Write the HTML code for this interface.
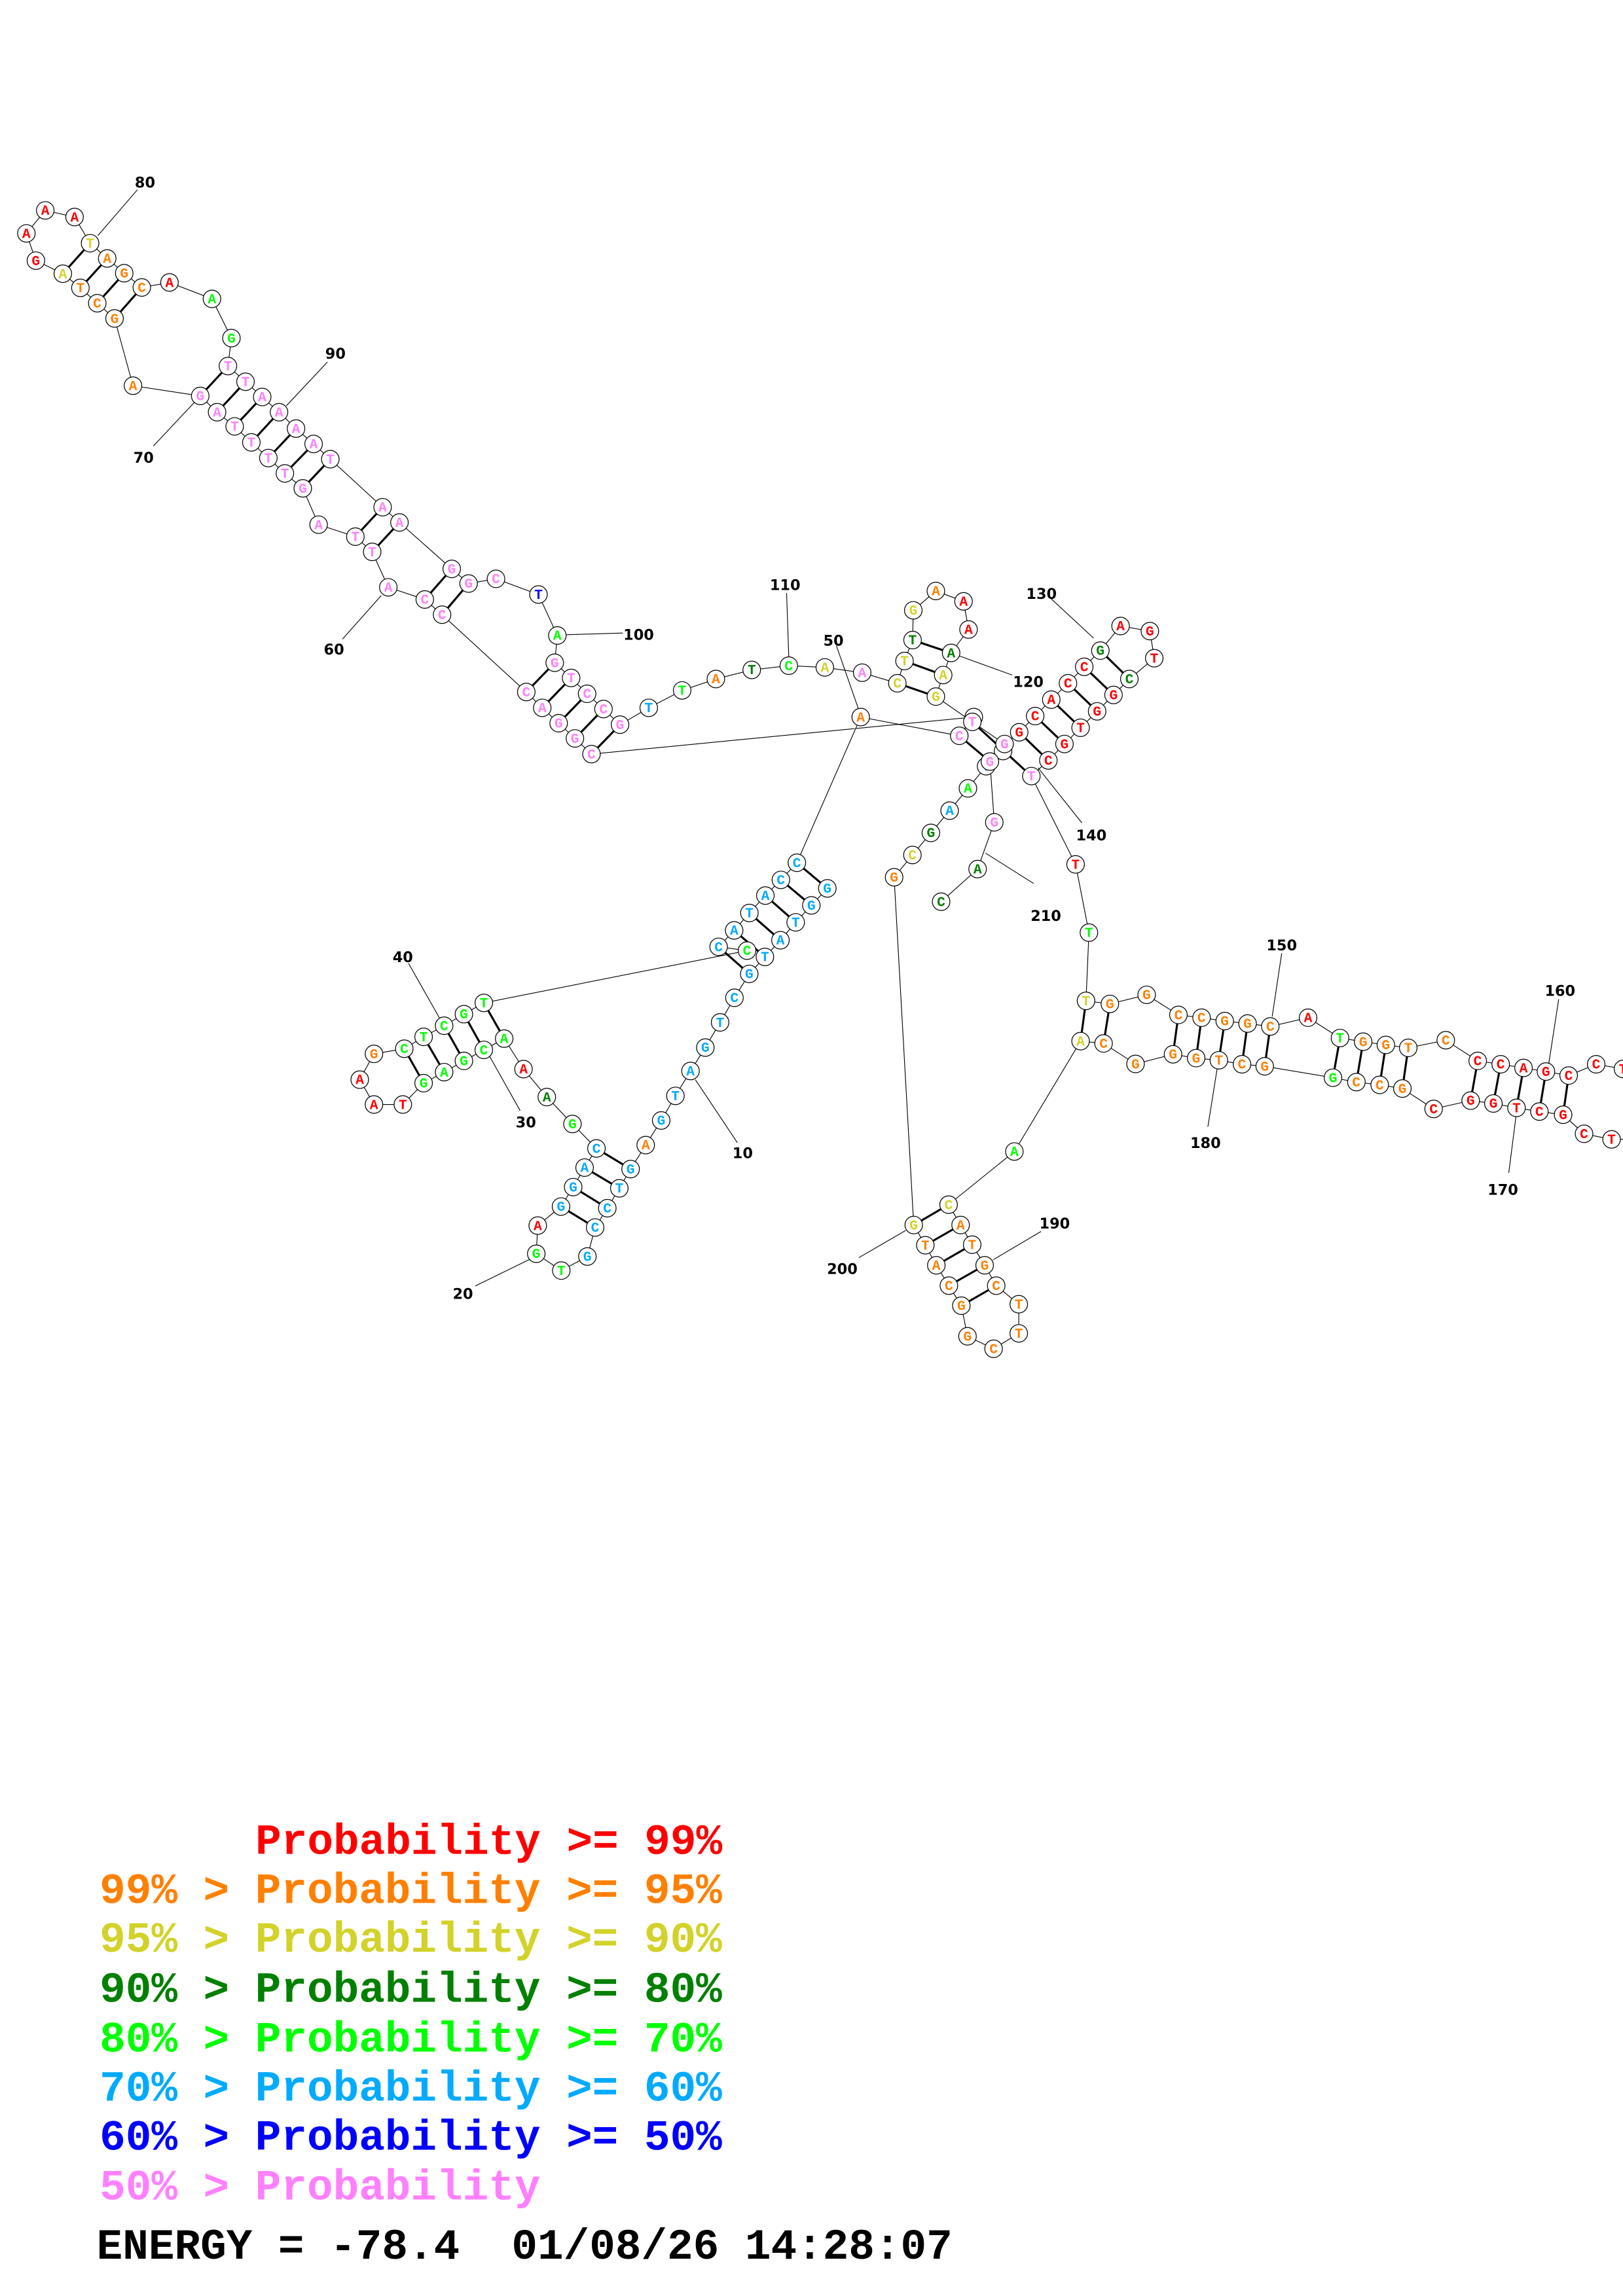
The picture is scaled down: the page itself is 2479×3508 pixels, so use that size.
<!DOCTYPE html>
<html><head><meta charset="utf-8"><style>
html,body{margin:0;padding:0;background:#fff}
svg{display:block}
.n circle{fill:#fff;stroke:#000;stroke-width:0.55}
.n text{font-family:"Liberation Mono",monospace;font-weight:bold;font-size:9.5px;text-anchor:middle}
.r{fill:#ff0000}.o{fill:#ff8000}.y{fill:#d2d22a}.d{fill:#008000}.g{fill:#00ff00}.c{fill:#00aaff}.b{fill:#0000ff}.p{fill:#ff80ff}
.lab{font-family:"DejaVu Sans","Liberation Sans",sans-serif;font-weight:bold;font-size:10px;text-anchor:middle;fill:#000}
.leg text{font-family:"Liberation Mono",monospace;font-weight:bold;font-size:29.5px;white-space:pre}
</style></head><body>
<svg width="2479" height="3508" viewBox="0 0 1108 1568" preserveAspectRatio="none" xmlns="http://www.w3.org/2000/svg">
<g fill="none" stroke="#000" stroke-width="0.5">
<polyline points="564.8,606.7 553.9,618.3 543.2,629.9 532.8,642.1 522.2,653.5 511.5,665.1 501.4,681.4 491.6,698.2 481.5,715.4 471.4,731.4 461.1,748.4 451.4,765.2 440.8,782 430.5,798.4 422.8,811.5 414.6,825.1 406.3,838.3 401,858.1 383.2,867.7 366.1,856.2 367.1,837 383,824 391.3,810.7 399.1,797.4 407.2,784.3 390.8,767.6 373.3,749.2 357.4,730.1 344.2,709.3 330.3,717 316.7,724.5 303.2,732.2 289.2,739.7 275,754.3 255.3,754.3 245.6,737.3 255.3,719.7 276,716.2 289.2,708.1 303.2,700.5 316.7,692.6 330.3,684.9 510,649.2 490.6,646.6 501.2,635.4 511.6,623.5 522.5,611.6 533.1,600.9 544,589.2 587.6,489.7 654.9,502.5 664.8,489.7 403.8,515 392.5,504.3 381.4,493.9 370.2,483.4 359.3,472.6 301.8,419.8 290,409.4 265.1,401.1 254.1,376.9 242.6,366.5 217.5,358.3 206.7,333.5 194.5,323.3 183.2,312.8 171.6,302.1 160.2,291.2 148.2,281.5 136.7,270.4 90.8,263.4 78.2,217.5 66.4,207.1 54.9,196.6 42.9,186.9 24.5,178 18,159.4 30.9,143.7 50.9,148.2 61.5,166.1 73.2,176.5 84.8,186.6 96.8,196.3 115.7,192.9 144.7,204.1 158,230.9 155.6,250 167.6,260.7 179,271.1 190.5,281.5 202.1,292.7 214.1,303.2 225.5,313.6 261.2,346.4 272.7,356.8 308.4,388.5 319.9,398.5 338.6,395.3 367.6,406 380.5,434 378.7,452.6 389.9,463 400.8,473.8 412,484.2 423.3,494.9 442.9,483.4 465.7,471.5 488.7,463.7 513.2,457.5 538.5,454.6 563.1,455.8 588.6,459.4 612.6,466.6 617.5,451.4 623,437.1 623.5,416.8 638.9,403.6 657.8,410.7 661.2,429.9 649.3,445.9 643.9,461 638.9,475.7 663.8,493 685.8,508.1 695.8,500.1 706.7,489 717.7,477.8 729.1,466.6 740.2,455.4 751.2,444.3 765,427.5 785,431 788,449.5 771,463.7 760.2,474.6 749,485.8 737.7,497 726.7,508.1 715.7,519.3 704.1,530 734.3,590.3 743.4,636.9 741.4,683.5 757.7,685.6 782.8,679.4 804.5,693.1 820.3,695 836.1,697.3 851.7,699 867.2,701 893,695 914.8,708.9 930.6,711.4 946.1,713.6 961.4,715.6 987,710.4 1008.8,724.5 1024.5,726.8 1040.1,729.3 1055.4,731.8 1070.9,734.5 1089.7,726.8 1108,730 1120,750 1115,778 1100.2,778.1 1081.4,774.3 1067.1,761.3 1050.9,759.1 1035.3,756.6 1019.5,753.6 1004,751.6 978.7,757.3 957.4,743.4 941.9,740.9 926,739 910,736 863.4,728.2 847.9,726.8 832.1,724.1 816.6,722.6 800.8,720 775.2,726.6 753.4,712.6 737.7,711 692.5,786.4 647.6,822.7 655.8,836.6 663.7,850 672.2,864.1 680.1,878 695.5,890.7 695.5,910.6 678.3,921.1 660.5,912.6 656.3,891.7 647.8,878 639.2,864.1 631.7,850.4 623.8,836.6 610.4,599.1 622.9,583.9 635.5,568.8 648.3,553.6 660.8,538.4 673.2,523.3 684.8,512.9 675.8,520.1 678.8,561.6 667.4,593.5 642.5,615.8"/>
<line x1="474.7" y1="737.3" x2="503.4" y2="780.4"/>
<line x1="324.5" y1="878.2" x2="361.3" y2="860.2"/>
<line x1="334.2" y1="721.3" x2="355.1" y2="758.5"/>
<line x1="278.9" y1="657.9" x2="299.9" y2="695"/>
<line x1="571" y1="441" x2="586" y2="484"/>
<line x1="233.8" y1="436.5" x2="260.3" y2="406.7"/>
<line x1="104.7" y1="304.6" x2="132.7" y2="274.8"/>
<line x1="93.8" y1="129.6" x2="66.8" y2="160.9"/>
<line x1="223.5" y1="247.3" x2="195.5" y2="277.1"/>
<line x1="386.7" y1="433.5" x2="425.2" y2="432.3"/>
<line x1="537" y1="405" x2="538.5" y2="449"/>
<line x1="655" y1="448" x2="691" y2="461"/>
<line x1="717.7" y1="409" x2="746.6" y2="435.8"/>
<line x1="708.7" y1="524.4" x2="738.6" y2="562"/>
<line x1="875" y1="651" x2="868.5" y2="694.3"/>
<line x1="1064.1" y1="682.4" x2="1057.1" y2="727.8"/>
<line x1="1035" y1="762" x2="1030" y2="801"/>
<line x1="830.9" y1="730" x2="824.6" y2="769.5"/>
<line x1="710.7" y1="841" x2="677.9" y2="860.4"/>
<line x1="586.3" y1="858.9" x2="618.3" y2="840.3"/>
<line x1="672.8" y1="582.6" x2="705.7" y2="603.4"/>
</g>
<g stroke="#000" stroke-width="1.4">
<line x1="564.8" y1="606.7" x2="544" y2="589.2"/><line x1="553.9" y1="618.3" x2="533.1" y2="600.9"/><line x1="543.2" y1="629.9" x2="522.5" y2="611.6"/><line x1="532.8" y1="642.1" x2="511.6" y2="623.5"/><line x1="522.2" y1="653.5" x2="501.2" y2="635.4"/><line x1="511.5" y1="665.1" x2="490.6" y2="646.6"/>
<line x1="430.5" y1="798.4" x2="407.2" y2="784.3"/><line x1="422.8" y1="811.5" x2="399.1" y2="797.4"/><line x1="414.6" y1="825.1" x2="391.3" y2="810.7"/><line x1="406.3" y1="838.3" x2="383" y2="824"/>
<line x1="344.2" y1="709.3" x2="330.3" y2="684.9"/><line x1="330.3" y1="717" x2="316.7" y2="692.6"/><line x1="316.7" y1="724.5" x2="303.2" y2="700.5"/><line x1="303.2" y1="732.2" x2="289.2" y2="708.1"/><line x1="289.2" y1="739.7" x2="276" y2="716.2"/>
<line x1="403.8" y1="515" x2="423.3" y2="494.9"/><line x1="392.5" y1="504.3" x2="412" y2="484.2"/><line x1="381.4" y1="493.9" x2="400.8" y2="473.8"/><line x1="370.2" y1="483.4" x2="389.9" y2="463"/><line x1="359.3" y1="472.6" x2="378.7" y2="452.6"/>
<line x1="301.8" y1="419.8" x2="319.9" y2="398.5"/><line x1="290" y1="409.4" x2="308.4" y2="388.5"/><line x1="254.1" y1="376.9" x2="272.7" y2="356.8"/><line x1="242.6" y1="366.5" x2="261.2" y2="346.4"/>
<line x1="206.7" y1="333.5" x2="225.5" y2="313.6"/><line x1="194.5" y1="323.3" x2="214.1" y2="303.2"/><line x1="183.2" y1="312.8" x2="202.1" y2="292.7"/><line x1="171.6" y1="302.1" x2="190.5" y2="281.5"/><line x1="160.2" y1="291.2" x2="179" y2="271.1"/><line x1="148.2" y1="281.5" x2="167.6" y2="260.7"/><line x1="136.7" y1="270.4" x2="155.6" y2="250"/>
<line x1="78.2" y1="217.5" x2="96.8" y2="196.3"/><line x1="66.4" y1="207.1" x2="84.8" y2="186.6"/><line x1="54.9" y1="196.6" x2="73.2" y2="176.5"/><line x1="42.9" y1="186.9" x2="61.5" y2="166.1"/>
<line x1="612.6" y1="466.6" x2="638.9" y2="475.7"/><line x1="617.5" y1="451.4" x2="643.9" y2="461"/><line x1="623" y1="437.1" x2="649.3" y2="445.9"/>
<line x1="695.8" y1="500.1" x2="715.7" y2="519.3"/><line x1="706.7" y1="489" x2="726.7" y2="508.1"/><line x1="717.7" y1="477.8" x2="737.7" y2="497"/><line x1="729.1" y1="466.6" x2="749" y2="485.8"/><line x1="740.2" y1="455.4" x2="760.2" y2="474.6"/><line x1="751.2" y1="444.3" x2="771" y2="463.7"/>
<line x1="654.9" y1="502.5" x2="675.8" y2="520.1"/><line x1="663.8" y1="493" x2="704.1" y2="530"/>
<line x1="741.4" y1="683.5" x2="737.7" y2="711"/><line x1="757.7" y1="685.6" x2="753.4" y2="712.6"/>
<line x1="804.5" y1="693.1" x2="800.8" y2="720"/><line x1="820.3" y1="695" x2="816.6" y2="722.6"/><line x1="836.1" y1="697.3" x2="832.1" y2="724.1"/><line x1="851.7" y1="699" x2="847.9" y2="726.8"/><line x1="867.2" y1="701" x2="863.4" y2="728.2"/>
<line x1="914.8" y1="708.9" x2="910" y2="736"/><line x1="930.6" y1="711.4" x2="926" y2="739"/><line x1="946.1" y1="713.6" x2="941.9" y2="740.9"/><line x1="961.4" y1="715.6" x2="957.4" y2="743.4"/>
<line x1="1008.8" y1="724.5" x2="1004" y2="751.6"/><line x1="1024.5" y1="726.8" x2="1019.5" y2="753.6"/><line x1="1040.1" y1="729.3" x2="1035.3" y2="756.6"/><line x1="1055.4" y1="731.8" x2="1050.9" y2="759.1"/><line x1="1070.9" y1="734.5" x2="1067.1" y2="761.3"/>
<line x1="647.6" y1="822.7" x2="623.8" y2="836.6"/><line x1="655.8" y1="836.6" x2="631.7" y2="850.4"/><line x1="663.7" y1="850" x2="639.2" y2="864.1"/><line x1="672.2" y1="864.1" x2="647.8" y2="878"/><line x1="680.1" y1="878" x2="656.3" y2="891.7"/>
</g>
<g class="n">
<circle cx="664.8" cy="489.7" r="6"/><circle cx="673.2" cy="523.3" r="6"/><text x="673.2" y="526.3" class="c">T</text><circle cx="684.8" cy="512.9" r="6"/>
<circle cx="564.8" cy="606.7" r="6"/><text x="564.8" y="609.7" class="c">G</text>
<circle cx="553.9" cy="618.3" r="6"/><text x="553.9" y="621.3" class="c">G</text>
<circle cx="543.2" cy="629.9" r="6"/><text x="543.2" y="632.9" class="c">T</text>
<circle cx="532.8" cy="642.1" r="6"/><text x="532.8" y="645.1" class="c">A</text>
<circle cx="522.2" cy="653.5" r="6"/><text x="522.2" y="656.5" class="c">T</text>
<circle cx="511.5" cy="665.1" r="6"/><text x="511.5" y="668.1" class="c">G</text>
<circle cx="501.4" cy="681.4" r="6"/><text x="501.4" y="684.4" class="c">C</text>
<circle cx="491.6" cy="698.2" r="6"/><text x="491.6" y="701.2" class="c">T</text>
<circle cx="481.5" cy="715.4" r="6"/><text x="481.5" y="718.4" class="c">G</text>
<circle cx="471.4" cy="731.4" r="6"/><text x="471.4" y="734.4" class="c">A</text>
<circle cx="461.1" cy="748.4" r="6"/><text x="461.1" y="751.4" class="c">T</text>
<circle cx="451.4" cy="765.2" r="6"/><text x="451.4" y="768.2" class="c">G</text>
<circle cx="440.8" cy="782" r="6"/><text x="440.8" y="785" class="o">A</text>
<circle cx="430.5" cy="798.4" r="6"/><text x="430.5" y="801.4" class="c">G</text>
<circle cx="422.8" cy="811.5" r="6"/><text x="422.8" y="814.5" class="c">T</text>
<circle cx="414.6" cy="825.1" r="6"/><text x="414.6" y="828.1" class="c">C</text>
<circle cx="406.3" cy="838.3" r="6"/><text x="406.3" y="841.3" class="c">C</text>
<circle cx="401" cy="858.1" r="6"/><text x="401" y="861.1" class="c">G</text>
<circle cx="383.2" cy="867.7" r="6"/><text x="383.2" y="870.7" class="g">T</text>
<circle cx="366.1" cy="856.2" r="6"/><text x="366.1" y="859.2" class="g">G</text>
<circle cx="367.1" cy="837" r="6"/><text x="367.1" y="840" class="r">A</text>
<circle cx="383" cy="824" r="6"/><text x="383" y="827" class="c">G</text>
<circle cx="391.3" cy="810.7" r="6"/><text x="391.3" y="813.7" class="c">G</text>
<circle cx="399.1" cy="797.4" r="6"/><text x="399.1" y="800.4" class="c">A</text>
<circle cx="407.2" cy="784.3" r="6"/><text x="407.2" y="787.3" class="c">C</text>
<circle cx="390.8" cy="767.6" r="6"/><text x="390.8" y="770.6" class="g">G</text>
<circle cx="373.3" cy="749.2" r="6"/><text x="373.3" y="752.2" class="d">A</text>
<circle cx="357.4" cy="730.1" r="6"/><text x="357.4" y="733.1" class="r">A</text>
<circle cx="344.2" cy="709.3" r="6"/><text x="344.2" y="712.3" class="g">A</text>
<circle cx="330.3" cy="717" r="6"/><text x="330.3" y="720" class="g">C</text>
<circle cx="316.7" cy="724.5" r="6"/><text x="316.7" y="727.5" class="g">G</text>
<circle cx="303.2" cy="732.2" r="6"/><text x="303.2" y="735.2" class="g">A</text>
<circle cx="289.2" cy="739.7" r="6"/><text x="289.2" y="742.7" class="g">G</text>
<circle cx="275" cy="754.3" r="6"/><text x="275" y="757.3" class="r">T</text>
<circle cx="255.3" cy="754.3" r="6"/><text x="255.3" y="757.3" class="r">A</text>
<circle cx="245.6" cy="737.3" r="6"/><text x="245.6" y="740.3" class="r">A</text>
<circle cx="255.3" cy="719.7" r="6"/><text x="255.3" y="722.7" class="o">G</text>
<circle cx="276" cy="716.2" r="6"/><text x="276" y="719.2" class="g">C</text>
<circle cx="289.2" cy="708.1" r="6"/><text x="289.2" y="711.1" class="g">T</text>
<circle cx="303.2" cy="700.5" r="6"/><text x="303.2" y="703.5" class="g">C</text>
<circle cx="316.7" cy="692.6" r="6"/><text x="316.7" y="695.6" class="g">G</text>
<circle cx="330.3" cy="684.9" r="6"/><text x="330.3" y="687.9" class="g">T</text>
<circle cx="490.6" cy="646.6" r="6"/><text x="490.6" y="649.6" class="c">C</text>
<circle cx="510" cy="649.2" r="6"/><text x="510" y="652.2" class="g">C</text>
<circle cx="501.2" cy="635.4" r="6"/><text x="501.2" y="638.4" class="c">A</text>
<circle cx="511.6" cy="623.5" r="6"/><text x="511.6" y="626.5" class="c">T</text>
<circle cx="522.5" cy="611.6" r="6"/><text x="522.5" y="614.6" class="c">A</text>
<circle cx="533.1" cy="600.9" r="6"/><text x="533.1" y="603.9" class="c">C</text>
<circle cx="544" cy="589.2" r="6"/><text x="544" y="592.2" class="c">C</text>
<circle cx="587.6" cy="489.7" r="6"/><text x="587.6" y="492.7" class="o">A</text>
<circle cx="654.9" cy="502.5" r="6"/><text x="654.9" y="505.5" class="p">C</text>
<circle cx="403.8" cy="515" r="6"/><text x="403.8" y="518" class="p">C</text>
<circle cx="392.5" cy="504.3" r="6"/><text x="392.5" y="507.3" class="p">G</text>
<circle cx="381.4" cy="493.9" r="6"/><text x="381.4" y="496.9" class="p">G</text>
<circle cx="370.2" cy="483.4" r="6"/><text x="370.2" y="486.4" class="p">A</text>
<circle cx="359.3" cy="472.6" r="6"/><text x="359.3" y="475.6" class="p">C</text>
<circle cx="301.8" cy="419.8" r="6"/><text x="301.8" y="422.8" class="p">C</text>
<circle cx="290" cy="409.4" r="6"/><text x="290" y="412.4" class="p">C</text>
<circle cx="265.1" cy="401.1" r="6"/><text x="265.1" y="404.1" class="p">A</text>
<circle cx="254.1" cy="376.9" r="6"/><text x="254.1" y="379.9" class="p">T</text>
<circle cx="242.6" cy="366.5" r="6"/><text x="242.6" y="369.5" class="p">T</text>
<circle cx="217.5" cy="358.3" r="6"/><text x="217.5" y="361.3" class="p">A</text>
<circle cx="206.7" cy="333.5" r="6"/><text x="206.7" y="336.5" class="p">G</text>
<circle cx="194.5" cy="323.3" r="6"/><text x="194.5" y="326.3" class="p">T</text>
<circle cx="183.2" cy="312.8" r="6"/><text x="183.2" y="315.8" class="p">T</text>
<circle cx="171.6" cy="302.1" r="6"/><text x="171.6" y="305.1" class="p">T</text>
<circle cx="160.2" cy="291.2" r="6"/><text x="160.2" y="294.2" class="p">T</text>
<circle cx="148.2" cy="281.5" r="6"/><text x="148.2" y="284.5" class="p">A</text>
<circle cx="136.7" cy="270.4" r="6"/><text x="136.7" y="273.4" class="p">G</text>
<circle cx="90.8" cy="263.4" r="6"/><text x="90.8" y="266.4" class="o">A</text>
<circle cx="78.2" cy="217.5" r="6"/><text x="78.2" y="220.5" class="o">G</text>
<circle cx="66.4" cy="207.1" r="6"/><text x="66.4" y="210.1" class="o">C</text>
<circle cx="54.9" cy="196.6" r="6"/><text x="54.9" y="199.6" class="o">T</text>
<circle cx="42.9" cy="186.9" r="6"/><text x="42.9" y="189.9" class="y">A</text>
<circle cx="24.5" cy="178" r="6"/><text x="24.5" y="181" class="r">G</text>
<circle cx="18" cy="159.4" r="6"/><text x="18" y="162.4" class="r">A</text>
<circle cx="30.9" cy="143.7" r="6"/><text x="30.9" y="146.7" class="r">A</text>
<circle cx="50.9" cy="148.2" r="6"/><text x="50.9" y="151.2" class="r">A</text>
<circle cx="61.5" cy="166.1" r="6"/><text x="61.5" y="169.1" class="y">T</text>
<circle cx="73.2" cy="176.5" r="6"/><text x="73.2" y="179.5" class="o">A</text>
<circle cx="84.8" cy="186.6" r="6"/><text x="84.8" y="189.6" class="o">G</text>
<circle cx="96.8" cy="196.3" r="6"/><text x="96.8" y="199.3" class="o">C</text>
<circle cx="115.7" cy="192.9" r="6"/><text x="115.7" y="195.9" class="r">A</text>
<circle cx="144.7" cy="204.1" r="6"/><text x="144.7" y="207.1" class="g">A</text>
<circle cx="158" cy="230.9" r="6"/><text x="158" y="233.9" class="g">G</text>
<circle cx="155.6" cy="250" r="6"/><text x="155.6" y="253" class="p">T</text>
<circle cx="167.6" cy="260.7" r="6"/><text x="167.6" y="263.7" class="p">T</text>
<circle cx="179" cy="271.1" r="6"/><text x="179" y="274.1" class="p">A</text>
<circle cx="190.5" cy="281.5" r="6"/><text x="190.5" y="284.5" class="p">A</text>
<circle cx="202.1" cy="292.7" r="6"/><text x="202.1" y="295.7" class="p">A</text>
<circle cx="214.1" cy="303.2" r="6"/><text x="214.1" y="306.2" class="p">A</text>
<circle cx="225.5" cy="313.6" r="6"/><text x="225.5" y="316.6" class="p">T</text>
<circle cx="261.2" cy="346.4" r="6"/><text x="261.2" y="349.4" class="p">A</text>
<circle cx="272.7" cy="356.8" r="6"/><text x="272.7" y="359.8" class="p">A</text>
<circle cx="308.4" cy="388.5" r="6"/><text x="308.4" y="391.5" class="p">G</text>
<circle cx="319.9" cy="398.5" r="6"/><text x="319.9" y="401.5" class="p">G</text>
<circle cx="338.6" cy="395.3" r="6"/><text x="338.6" y="398.3" class="p">C</text>
<circle cx="367.6" cy="406" r="6"/><text x="367.6" y="409" class="b">T</text>
<circle cx="380.5" cy="434" r="6"/><text x="380.5" y="437" class="g">A</text>
<circle cx="378.7" cy="452.6" r="6"/><text x="378.7" y="455.6" class="p">G</text>
<circle cx="389.9" cy="463" r="6"/><text x="389.9" y="466" class="p">T</text>
<circle cx="400.8" cy="473.8" r="6"/><text x="400.8" y="476.8" class="p">C</text>
<circle cx="412" cy="484.2" r="6"/><text x="412" y="487.2" class="p">C</text>
<circle cx="423.3" cy="494.9" r="6"/><text x="423.3" y="497.9" class="p">G</text>
<circle cx="442.9" cy="483.4" r="6"/><text x="442.9" y="486.4" class="c">T</text>
<circle cx="465.7" cy="471.5" r="6"/><text x="465.7" y="474.5" class="g">T</text>
<circle cx="488.7" cy="463.7" r="6"/><text x="488.7" y="466.7" class="o">A</text>
<circle cx="513.2" cy="457.5" r="6"/><text x="513.2" y="460.5" class="d">T</text>
<circle cx="538.5" cy="454.6" r="6"/><text x="538.5" y="457.6" class="g">C</text>
<circle cx="563.1" cy="455.8" r="6"/><text x="563.1" y="458.8" class="y">A</text>
<circle cx="588.6" cy="459.4" r="6"/><text x="588.6" y="462.4" class="p">A</text>
<circle cx="612.6" cy="466.6" r="6"/><text x="612.6" y="469.6" class="y">C</text>
<circle cx="617.5" cy="451.4" r="6"/><text x="617.5" y="454.4" class="y">T</text>
<circle cx="623" cy="437.1" r="6"/><text x="623" y="440.1" class="d">T</text>
<circle cx="623.5" cy="416.8" r="6"/><text x="623.5" y="419.8" class="y">G</text>
<circle cx="638.9" cy="403.6" r="6"/><text x="638.9" y="406.6" class="o">A</text>
<circle cx="657.8" cy="410.7" r="6"/><text x="657.8" y="413.7" class="r">A</text>
<circle cx="661.2" cy="429.9" r="6"/><text x="661.2" y="432.9" class="r">A</text>
<circle cx="649.3" cy="445.9" r="6"/><text x="649.3" y="448.9" class="d">A</text>
<circle cx="643.9" cy="461" r="6"/><text x="643.9" y="464" class="y">A</text>
<circle cx="638.9" cy="475.7" r="6"/><text x="638.9" y="478.7" class="y">G</text>
<circle cx="663.8" cy="493" r="6"/><text x="663.8" y="496" class="p">T</text>
<circle cx="685.8" cy="508.1" r="6"/><text x="685.8" y="511.1" class="p">G</text>
<circle cx="695.8" cy="500.1" r="6"/><text x="695.8" y="503.1" class="r">G</text>
<circle cx="706.7" cy="489" r="6"/><text x="706.7" y="492" class="r">C</text>
<circle cx="717.7" cy="477.8" r="6"/><text x="717.7" y="480.8" class="r">A</text>
<circle cx="729.1" cy="466.6" r="6"/><text x="729.1" y="469.6" class="r">C</text>
<circle cx="740.2" cy="455.4" r="6"/><text x="740.2" y="458.4" class="r">C</text>
<circle cx="751.2" cy="444.3" r="6"/><text x="751.2" y="447.3" class="d">G</text>
<circle cx="765" cy="427.5" r="6"/><text x="765" y="430.5" class="r">A</text>
<circle cx="785" cy="431" r="6"/><text x="785" y="434" class="r">G</text>
<circle cx="788" cy="449.5" r="6"/><text x="788" y="452.5" class="r">T</text>
<circle cx="771" cy="463.7" r="6"/><text x="771" y="466.7" class="d">C</text>
<circle cx="760.2" cy="474.6" r="6"/><text x="760.2" y="477.6" class="r">G</text>
<circle cx="749" cy="485.8" r="6"/><text x="749" y="488.8" class="r">G</text>
<circle cx="737.7" cy="497" r="6"/><text x="737.7" y="500" class="r">T</text>
<circle cx="726.7" cy="508.1" r="6"/><text x="726.7" y="511.1" class="r">G</text>
<circle cx="715.7" cy="519.3" r="6"/><text x="715.7" y="522.3" class="r">C</text>
<circle cx="704.1" cy="530" r="6"/><text x="704.1" y="533" class="p">T</text>
<circle cx="734.3" cy="590.3" r="6"/><text x="734.3" y="593.3" class="r">T</text>
<circle cx="743.4" cy="636.9" r="6"/><text x="743.4" y="639.9" class="g">T</text>
<circle cx="741.4" cy="683.5" r="6"/><text x="741.4" y="686.5" class="y">T</text>
<circle cx="757.7" cy="685.6" r="6"/><text x="757.7" y="688.6" class="o">G</text>
<circle cx="782.8" cy="679.4" r="6"/><text x="782.8" y="682.4" class="o">G</text>
<circle cx="804.5" cy="693.1" r="6"/><text x="804.5" y="696.1" class="o">C</text>
<circle cx="820.3" cy="695" r="6"/><text x="820.3" y="698" class="o">C</text>
<circle cx="836.1" cy="697.3" r="6"/><text x="836.1" y="700.3" class="o">G</text>
<circle cx="851.7" cy="699" r="6"/><text x="851.7" y="702" class="o">G</text>
<circle cx="867.2" cy="701" r="6"/><text x="867.2" y="704" class="o">C</text>
<circle cx="893" cy="695" r="6"/><text x="893" y="698" class="r">A</text>
<circle cx="914.8" cy="708.9" r="6"/><text x="914.8" y="711.9" class="g">T</text>
<circle cx="930.6" cy="711.4" r="6"/><text x="930.6" y="714.4" class="o">G</text>
<circle cx="946.1" cy="713.6" r="6"/><text x="946.1" y="716.6" class="o">G</text>
<circle cx="961.4" cy="715.6" r="6"/><text x="961.4" y="718.6" class="o">T</text>
<circle cx="987" cy="710.4" r="6"/><text x="987" y="713.4" class="o">C</text>
<circle cx="1008.8" cy="724.5" r="6"/><text x="1008.8" y="727.5" class="r">C</text>
<circle cx="1024.5" cy="726.8" r="6"/><text x="1024.5" y="729.8" class="r">C</text>
<circle cx="1040.1" cy="729.3" r="6"/><text x="1040.1" y="732.3" class="r">A</text>
<circle cx="1055.4" cy="731.8" r="6"/><text x="1055.4" y="734.8" class="r">G</text>
<circle cx="1070.9" cy="734.5" r="6"/><text x="1070.9" y="737.5" class="r">C</text>
<circle cx="1089.7" cy="726.8" r="6"/><text x="1089.7" y="729.8" class="r">C</text>
<circle cx="1108" cy="730" r="6"/><text x="1108" y="733" class="r">T</text>
<circle cx="1100.2" cy="778.1" r="6"/><text x="1100.2" y="781.1" class="r">T</text>
<circle cx="1081.4" cy="774.3" r="6"/><text x="1081.4" y="777.3" class="r">C</text>
<circle cx="1067.1" cy="761.3" r="6"/><text x="1067.1" y="764.3" class="r">G</text>
<circle cx="1050.9" cy="759.1" r="6"/><text x="1050.9" y="762.1" class="r">C</text>
<circle cx="1035.3" cy="756.6" r="6"/><text x="1035.3" y="759.6" class="r">T</text>
<circle cx="1019.5" cy="753.6" r="6"/><text x="1019.5" y="756.6" class="r">G</text>
<circle cx="1004" cy="751.6" r="6"/><text x="1004" y="754.6" class="r">G</text>
<circle cx="978.7" cy="757.3" r="6"/><text x="978.7" y="760.3" class="r">C</text>
<circle cx="957.4" cy="743.4" r="6"/><text x="957.4" y="746.4" class="o">G</text>
<circle cx="941.9" cy="740.9" r="6"/><text x="941.9" y="743.9" class="o">C</text>
<circle cx="926" cy="739" r="6"/><text x="926" y="742" class="o">C</text>
<circle cx="910" cy="736" r="6"/><text x="910" y="739" class="g">G</text>
<circle cx="863.4" cy="728.2" r="6"/><text x="863.4" y="731.2" class="o">G</text>
<circle cx="847.9" cy="726.8" r="6"/><text x="847.9" y="729.8" class="o">C</text>
<circle cx="832.1" cy="724.1" r="6"/><text x="832.1" y="727.1" class="o">T</text>
<circle cx="816.6" cy="722.6" r="6"/><text x="816.6" y="725.6" class="o">G</text>
<circle cx="800.8" cy="720" r="6"/><text x="800.8" y="723" class="o">G</text>
<circle cx="775.2" cy="726.6" r="6"/><text x="775.2" y="729.6" class="o">G</text>
<circle cx="753.4" cy="712.6" r="6"/><text x="753.4" y="715.6" class="o">C</text>
<circle cx="737.7" cy="711" r="6"/><text x="737.7" y="714" class="y">A</text>
<circle cx="692.5" cy="786.4" r="6"/><text x="692.5" y="789.4" class="g">A</text>
<circle cx="647.6" cy="822.7" r="6"/><text x="647.6" y="825.7" class="y">C</text>
<circle cx="655.8" cy="836.6" r="6"/><text x="655.8" y="839.6" class="o">A</text>
<circle cx="663.7" cy="850" r="6"/><text x="663.7" y="853" class="o">T</text>
<circle cx="672.2" cy="864.1" r="6"/><text x="672.2" y="867.1" class="o">G</text>
<circle cx="680.1" cy="878" r="6"/><text x="680.1" y="881" class="o">C</text>
<circle cx="695.5" cy="890.7" r="6"/><text x="695.5" y="893.7" class="o">T</text>
<circle cx="695.5" cy="910.6" r="6"/><text x="695.5" y="913.6" class="o">T</text>
<circle cx="678.3" cy="921.1" r="6"/><text x="678.3" y="924.1" class="o">C</text>
<circle cx="660.5" cy="912.6" r="6"/><text x="660.5" y="915.6" class="o">G</text>
<circle cx="656.3" cy="891.7" r="6"/><text x="656.3" y="894.7" class="o">G</text>
<circle cx="647.8" cy="878" r="6"/><text x="647.8" y="881" class="o">C</text>
<circle cx="639.2" cy="864.1" r="6"/><text x="639.2" y="867.1" class="o">A</text>
<circle cx="631.7" cy="850.4" r="6"/><text x="631.7" y="853.4" class="o">T</text>
<circle cx="623.8" cy="836.6" r="6"/><text x="623.8" y="839.6" class="y">G</text>
<circle cx="610.4" cy="599.1" r="6"/><text x="610.4" y="602.1" class="o">G</text>
<circle cx="622.9" cy="583.9" r="6"/><text x="622.9" y="586.9" class="y">C</text>
<circle cx="635.5" cy="568.8" r="6"/><text x="635.5" y="571.8" class="d">G</text>
<circle cx="648.3" cy="553.6" r="6"/><text x="648.3" y="556.6" class="c">A</text>
<circle cx="660.8" cy="538.4" r="6"/><text x="660.8" y="541.4" class="g">A</text>
<circle cx="675.8" cy="520.1" r="6"/><text x="675.8" y="523.1" class="p">G</text>
<circle cx="678.8" cy="561.6" r="6"/><text x="678.8" y="564.6" class="p">G</text>
<circle cx="667.4" cy="593.5" r="6"/><text x="667.4" y="596.5" class="d">A</text>
<circle cx="642.5" cy="615.8" r="6"/><text x="642.5" y="618.8" class="d">C</text>
</g>
<g class="lab">
<text x="507" y="791">10</text><text x="316" y="887">20</text><text x="359" y="770">30</text><text x="275" y="657">40</text>
<text x="569" y="441">50</text><text x="228" y="447">60</text><text x="98" y="316">70</text><text x="99" y="128">80</text>
<text x="229" y="245">90</text><text x="436" y="437">100</text><text x="536" y="403">110</text><text x="702" y="469">120</text>
<text x="711" y="409">130</text><text x="745" y="574">140</text><text x="875" y="649">150</text><text x="1065" y="680">160</text>
<text x="1026" y="816">170</text><text x="823" y="784">180</text><text x="720" y="839">190</text><text x="575" y="870">200</text><text x="714" y="629">210</text>
</g>
<g class="leg">
<text x="174.4" y="1266" fill="#ff0000">Probability &gt;= 99%</text>
<text x="68" y="1299.5" fill="#ff8000">99% &gt; Probability &gt;= 95%</text>
<text x="68" y="1333" fill="#d2d22a">95% &gt; Probability &gt;= 90%</text>
<text x="68" y="1367" fill="#008000">90% &gt; Probability &gt;= 80%</text>
<text x="68" y="1401" fill="#00ff00">80% &gt; Probability &gt;= 70%</text>
<text x="68" y="1434.5" fill="#00aaff">70% &gt; Probability &gt;= 60%</text>
<text x="68" y="1468" fill="#0000ff">60% &gt; Probability &gt;= 50%</text>
<text x="68" y="1502" fill="#ff80ff">50% &gt; Probability</text>
<text x="66" y="1542.5" fill="#000">ENERGY = -78.4  01/08/26 14:28:07</text>
</g>
</svg>
</body></html>
